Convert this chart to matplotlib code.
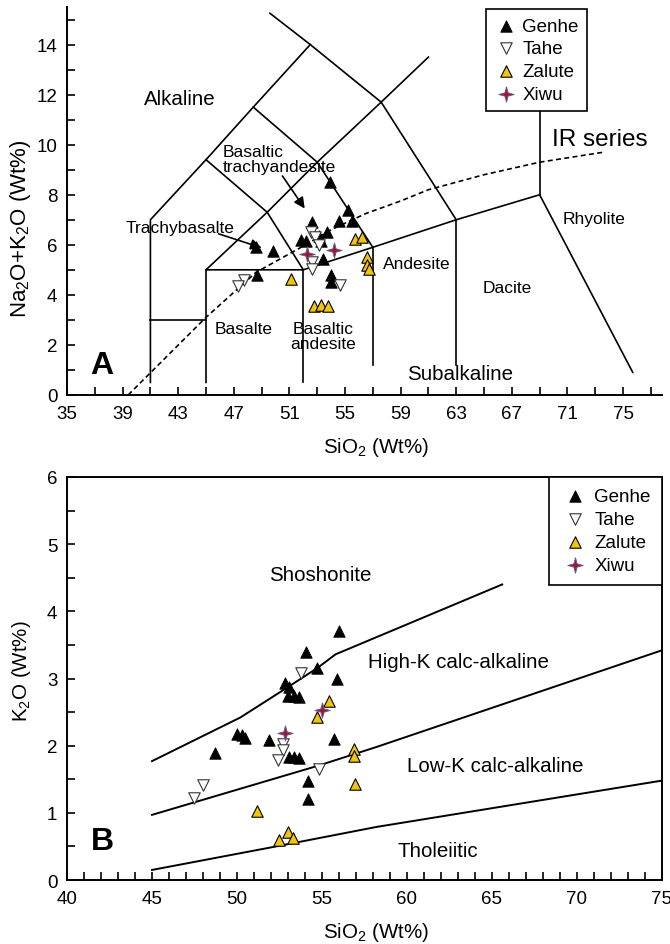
import matplotlib
matplotlib.use("Agg")
from matplotlib import pyplot as plt
from matplotlib.path import Path
from matplotlib.ticker import MultipleLocator, FixedLocator

plt.rcParams['font.family'] = ['Liberation Sans', 'DejaVu Sans']
plt.rcParams['mathtext.fontset'] = 'custom'
plt.rcParams['mathtext.rm'] = 'Liberation Sans'
plt.rcParams['mathtext.it'] = 'Liberation Sans:italic'
plt.rcParams['mathtext.bf'] = 'Liberation Sans:bold'

groups = ["Genhe", "Tahe", "Zalute", "Xiwu"]

# panel A: SiO2 vs Na2O+K2O
tas_xticks = [35, 39, 43, 47, 51, 55, 59, 63, 67, 71, 75]
tas_yticks = [0, 2, 4, 6, 8, 10, 12, 14]
tas_genhe_x = [53.9, 55.2, 54.6, 55.5, 52.65, 53.7, 53.1, 51.8, 52.2, 53.3, 48.6, 49.8, 53.45, 48.65, 54.0, 54.0]
tas_genhe_y = [8.5, 7.4, 6.95, 6.95, 6.9, 6.5, 6.35, 6.2, 6.15, 6.15, 5.9, 5.75, 5.45, 4.8, 4.8, 4.5]
tas_tahe_x = [52.55, 52.85, 53.1, 52.65, 52.65, 54.65, 47.7, 47.3]
tas_tahe_y = [6.5, 6.3, 6.0, 5.3, 5.05, 4.4, 4.6, 4.35]
tas_zalute_x = [51.1, 52.8, 53.3, 53.8, 55.7, 56.2, 56.6, 56.55, 56.75]
tas_zalute_y = [4.65, 3.55, 3.6, 3.55, 6.25, 6.3, 5.5, 5.2, 5.05]
tas_xiwu_x = [52.3, 54.2]
tas_xiwu_y = [5.65, 5.8]

# TAS field boundaries
tas_lines = [
    [(41, 0.5), (41, 7), (45, 9.4), (48.4, 11.5), (52.5, 14)],
    [(41, 3), (45, 3)],
    [(45, 0.5), (45, 5), (52, 5), (57, 5.9), (63, 7), (69, 8), (75.7, 0.9)],
    [(52, 0.5), (52, 5)],
    [(57, 1.2), (57, 5.9)],
    [(63, 1.2), (63, 7)],
    [(69, 8), (69, 13)],
    [(45, 9.4), (49.4, 7.3), (52, 5)],
    [(48.4, 11.5), (53, 9.3), (57, 5.9)],
    [(49.6, 15.25), (52.5, 14), (57.6, 11.7), (63, 7)],
    [(45, 5), (49.4, 7.3), (53, 9.3), (57.6, 11.7), (61, 13.5)],
]
ir_x = [39.4, 45, 48.6, 52, 54, 56.5, 59, 61, 65, 69, 73.6]
ir_y = [0, 3.1, 4.9, 5.95, 6.6, 7.25, 7.75, 8.2, 8.8, 9.3, 9.7]

# panel B: SiO2 vs K2O
k_genhe_x = [50.0, 50.3, 50.5, 48.7, 51.9, 55.7, 53.05, 53.35, 53.65, 54.15, 54.15,
             56.0, 54.05, 54.7, 55.9, 52.85, 53.05, 52.98, 53.35, 53.65]
k_genhe_y = [2.17, 2.16, 2.11, 1.89, 2.09, 2.1, 1.83, 1.83, 1.81, 1.48, 1.21,
             3.71, 3.4, 3.15, 3.0, 2.94, 2.87, 2.74, 2.74, 2.72]
k_tahe_x = [52.7, 52.7, 52.4, 54.8, 48.0, 47.5, 53.75]
k_tahe_y = [2.02, 1.94, 1.78, 1.66, 1.41, 1.22, 3.08]
k_zalute_x = [51.2, 56.9, 56.9, 56.95, 52.5, 53.0, 53.3, 55.4, 54.7]
k_zalute_y = [1.03, 1.95, 1.84, 1.43, 0.6, 0.72, 0.63, 2.67, 2.43]
k_xiwu_x = [52.8, 55.0]
k_xiwu_y = [2.19, 2.53]

k_lines = [
    [(45, 1.77), (50.2, 2.42), (52.8, 2.84), (54.75, 3.16), (55.8, 3.36), (65.6, 4.4)],
    [(45, 0.97), (54.75, 1.7), (58.2, 1.98), (75, 3.42)],
    [(45, 0.15), (52.3, 0.5), (58.2, 0.79), (75, 1.48)],
]

star4 = Path.unit_regular_star(4, 0.3)
styles = {
    "Genhe": dict(marker='^', facecolor='black', edgecolor='black', s=68, linewidths=0.6),
    "Tahe": dict(marker='v', facecolor='white', edgecolor='#333333', s=68, linewidths=0.8),
    "Zalute": dict(marker='^', facecolor='#f2c40c', edgecolor='black', s=68, linewidths=0.8),
    "Xiwu": dict(marker=star4, facecolor='#a01530', edgecolor='#6a5a8c', s=120, linewidths=0.7),
}

LBL = 14.8
SMALL = 12.5


def style_ticks(ax):
    ax.tick_params(which='both', direction='in', length=6, width=1.2, labelsize=13.5, pad=7)
    for side in ['left', 'bottom']:
        ax.spines[side].set_linewidth(1.4)


def draw_points(ax, data):
    for name, (xs, ys) in zip(groups, data):
        ax.scatter(xs, ys, label=name, zorder=4, **styles[name])


fig = plt.figure(figsize=(6.7, 9.45), dpi=100)
ax1 = fig.add_axes([0.1, 0.581, 0.888, 0.4105])
ax2 = fig.add_axes([0.1, 0.0677, 0.888, 0.4265])

# ---- A ----
for line in tas_lines:
    ax1.plot([p[0] for p in line], [p[1] for p in line], color='black', lw=1.2, zorder=2)
ax1.plot(ir_x, ir_y, color='black', lw=1.2, ls=(0, (3, 2)), zorder=2)
draw_points(ax1, [(tas_genhe_x, tas_genhe_y), (tas_tahe_x, tas_tahe_y),
                  (tas_zalute_x, tas_zalute_y), (tas_xiwu_x, tas_xiwu_y)])

ax1.set_xlim(35, 77.8)
ax1.set_ylim(0, 15.5)
ax1.xaxis.set_major_locator(FixedLocator(tas_xticks))
ax1.xaxis.set_minor_locator(FixedLocator(list(range(35, 78, 2))))
ax1.yaxis.set_major_locator(FixedLocator(tas_yticks))
ax1.yaxis.set_minor_locator(MultipleLocator(1))
ax1.spines['top'].set_visible(False)
ax1.spines['right'].set_visible(False)
style_ticks(ax1)
ax1.set_xlabel("SiO$_2$ (Wt%)", fontsize=LBL)
ax1.set_ylabel("Na$_2$O+K$_2$O (Wt%)", fontsize=16)
ax1.xaxis.set_label_coords(0.52, -0.104)
ax1.yaxis.set_label_coords(-0.057, 0.43)

ax1.text(43.1, 11.84, "Alkaline", fontsize=LBL, ha='center', va='center')
ax1.text(46.2, 9.42, "Basaltic\ntrachyandesite", fontsize=SMALL, ha='left', va='center', linespacing=1.05)
ax1.text(39.2, 6.7, "Trachybasalte", fontsize=SMALL, ha='left', va='center')
ax1.text(47.7, 2.64, "Basalte", fontsize=SMALL, ha='center', va='center')
ax1.text(53.4, 2.35, "Basaltic\nandesite", fontsize=SMALL, ha='center', va='center', linespacing=1.05)
ax1.text(57.7, 5.24, "Andesite", fontsize=SMALL, ha='left', va='center')
ax1.text(66.7, 4.28, "Dacite", fontsize=SMALL, ha='center', va='center')
ax1.text(72.9, 7.04, "Rhyolite", fontsize=SMALL, ha='center', va='center')
ax1.text(63.3, 0.84, "Subalkaline", fontsize=LBL, ha='center', va='center')
ax1.text(69.9, 10.24, "IR series", fontsize=17.5, ha='left', va='center')
ax1.text(37.5, 1.2, "A", fontsize=23, fontweight='bold', ha='center', va='center')
arrow = dict(arrowstyle='-|>', color='black', lw=1.2, mutation_scale=16, shrinkA=0, shrinkB=0)
ax1.annotate("", xy=(52.1, 7.45), xytext=(50.5, 8.75), arrowprops=arrow)
ax1.annotate("", xy=(49.0, 5.88), xytext=(45.9, 6.44), arrowprops=arrow)

leg1 = ax1.legend(loc='upper left', bbox_to_anchor=(0.704, 0.995), borderaxespad=0,
                  fontsize=13.5, frameon=True, fancybox=False, framealpha=1,
                  edgecolor='black', handletextpad=0.3, labelspacing=0.3,
                  borderpad=0.45, handlelength=1.2)
leg1.get_frame().set_linewidth(1.2)
leg1.set_zorder(10)

# ---- B ----
for line in k_lines:
    ax2.plot([p[0] for p in line], [p[1] for p in line], color='black', lw=1.4, zorder=2)
draw_points(ax2, [(k_genhe_x, k_genhe_y), (k_tahe_x, k_tahe_y),
                  (k_zalute_x, k_zalute_y), (k_xiwu_x, k_xiwu_y)])

ax2.set_xlim(40, 75)
ax2.set_ylim(0, 6)
ax2.xaxis.set_major_locator(MultipleLocator(5))
ax2.xaxis.set_minor_locator(MultipleLocator(1))
ax2.yaxis.set_major_locator(MultipleLocator(1))
ax2.yaxis.set_minor_locator(MultipleLocator(0.5))
style_ticks(ax2)
for side in ['top', 'right']:
    ax2.spines[side].set_linewidth(1.4)
ax2.set_xlabel("SiO$_2$ (Wt%)", fontsize=LBL)
ax2.set_ylabel("K$_2$O (Wt%)", fontsize=LBL)
ax2.xaxis.set_label_coords(0.52, -0.1)
ax2.yaxis.set_label_coords(-0.057, 0.52)

ax2.text(54.9, 4.55, "Shoshonite", fontsize=LBL, ha='center', va='center')
ax2.text(63.0, 3.26, "High-K calc-alkaline", fontsize=LBL, ha='center', va='center')
ax2.text(65.2, 1.71, "Low-K calc-alkaline", fontsize=LBL, ha='center', va='center')
ax2.text(61.8, 0.44, "Tholeiitic", fontsize=LBL, ha='center', va='center')
ax2.text(42.1, 0.58, "B", fontsize=23, fontweight='bold', ha='center', va='center')

leg2 = ax2.legend(loc='upper right', borderaxespad=0, fontsize=13.5, frameon=True,
                  fancybox=False, framealpha=1, edgecolor='black', handletextpad=0.3,
                  labelspacing=0.3, borderpad=0.6, handlelength=1.5)
leg2.get_frame().set_linewidth(1.2)
leg2.set_zorder(10)

plt.savefig("out.png", dpi=100)
